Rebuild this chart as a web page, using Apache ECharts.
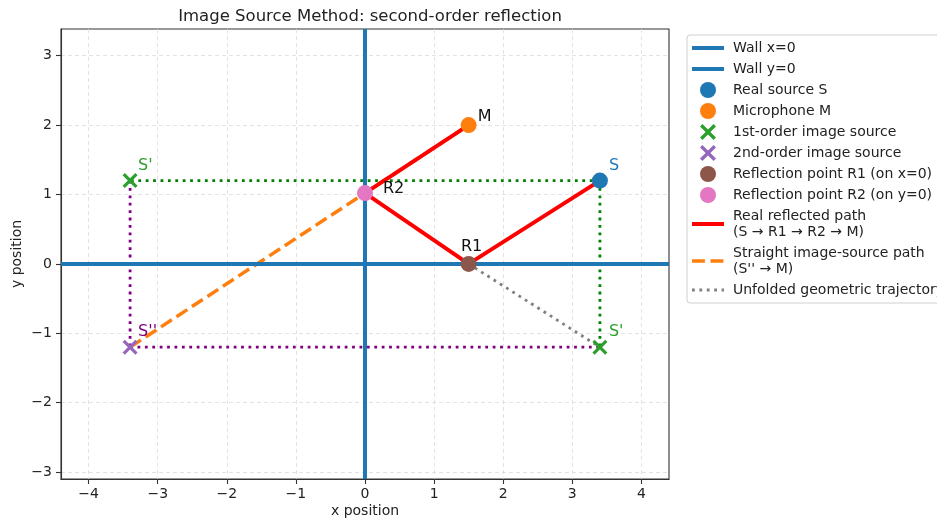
<!DOCTYPE html>
<html>
<head>
<meta charset="utf-8">
<script src="https://cdn.jsdelivr.net/npm/echarts@6/dist/echarts.min.js"></script>
<style>
  html, body { margin: 0; padding: 0; background: #fff; }
  #chart { width: 937px; height: 520px; }
</style>
</head>
<body>
<div id="chart"></div>
<script>
// Geometry of the second-order image-source construction
const xTicks = [-4, -3, -2, -1, 0, 1, 2, 3, 4];
const yTicks = [-3, -2, -1, 0, 1, 2, 3];
const wallX = 0;
const wallY = 0;
const source = [3.4, 1.2];
const microphone = [1.5, 2.0];
const imageFirstLeft = [-3.4, 1.2];
const imageFirstBelow = [3.4, -1.2];
const imageSecond = [-3.4, -1.2];
const reflection1 = [1.5, 0];
const reflection2 = [0, 1.02];

const realPath = [source, reflection1, reflection2, microphone];
const straightPath = [imageSecond, microphone];
const unfoldedPath = [reflection1, imageFirstBelow];
const greenGuides = [[source, imageFirstBelow], [source, imageFirstLeft]];
const purpleGuides = [[imageFirstLeft, imageSecond], [imageSecond, imageFirstBelow]];

const FONT = 'DejaVu Sans';
const X_SYMBOL = 'path://M0,3 L3,0 L10,7 L17,0 L20,3 L13,10 L20,17 L17,20 L10,13 L3,20 L0,17 L7,10 Z';
const minus = v => String(v).replace('-', '\u2212');

function tag(point, text, color, offset, align) {
  return {
    value: point,
    label: {
      show: true, formatter: text, position: 'inside',
      align: align || 'left', verticalAlign: 'middle',
      offset: offset, color: color, fontSize: 16, fontFamily: FONT
    }
  };
}

function guide(name, segs, color) {
  return segs.map(seg => ({
    name: name, type: 'line', data: seg, symbol: 'none', z: 3,
    lineStyle: { color: color, width: 2.8, type: [2.8, 4.6] },
    silent: true, animation: false
  }));
}

function wall(name, axisKey, value) {
  const item = {}; item[axisKey] = value;
  return {
    name: name, type: 'line', data: [], symbol: 'none', z: 2,
    lineStyle: { color: '#1f77b4', width: 4 },
    itemStyle: { color: '#1f77b4' },
    markLine: {
      symbol: 'none', silent: true, animation: false,
      label: { show: false },
      lineStyle: { color: '#1f77b4', width: 4, type: 'solid' },
      data: [item]
    }
  };
}

const pathName = 'Real reflected path\n(S \u2192 R1 \u2192 R2 \u2192 M)';
const straightName = 'Straight image-source path\n(S\'\' \u2192 M)';
const unfoldedName = 'Unfolded geometric trajectory';

const chart = echarts.init(document.getElementById('chart'), null, { renderer: 'canvas' });

const series = [
  wall('Wall x=0', 'xAxis', wallX),
  wall('Wall y=0', 'yAxis', wallY),
  ...guide('guide-green', greenGuides, '#008000'),
  ...guide('guide-purple', purpleGuides, '#800080'),
  {
    name: unfoldedName, type: 'line', data: unfoldedPath, symbol: 'none', z: 3,
    lineStyle: { color: '#808080', width: 2.8, type: [2.8, 4.6] },
    itemStyle: { color: '#808080' }
  },
  {
    name: straightName, type: 'line', data: straightPath, symbol: 'none', z: 4,
    lineStyle: { color: '#ff7f0e', width: 3.5, type: [12.9, 5.6] },
    itemStyle: { color: '#ff7f0e' }
  },
  {
    name: pathName, type: 'line', data: realPath, symbol: 'none', z: 5,
    lineStyle: { color: '#ff0000', width: 4 },
    itemStyle: { color: '#ff0000' }
  },
  {
    name: 'Real source S', type: 'scatter', symbol: 'circle', symbolSize: 16, z: 6,
    itemStyle: { color: '#1f77b4', opacity: 1 },
    data: [tag(source, 'S', '#1f77b4', [9, -15])]
  },
  {
    name: 'Microphone M', type: 'scatter', symbol: 'circle', symbolSize: 16, z: 6,
    itemStyle: { color: '#ff7f0e', opacity: 1 },
    data: [tag(microphone, 'M', '#111', [9, -8])]
  },
  {
    name: '1st-order image source', type: 'scatter', symbol: X_SYMBOL, symbolSize: 15, z: 6,
    itemStyle: { color: '#2ca02c', opacity: 1 },
    data: [tag(imageFirstLeft, "S'", '#2ca02c', [8, -15]), tag(imageFirstBelow, "S'", '#2ca02c', [9, -15])]
  },
  {
    name: '2nd-order image source', type: 'scatter', symbol: X_SYMBOL, symbolSize: 15, z: 6,
    itemStyle: { color: '#9467bd', opacity: 1 },
    data: [tag(imageSecond, "S''", '#800080', [8, -15])]
  },
  {
    name: 'Reflection point R1 (on x=0)', type: 'scatter', symbol: 'circle', symbolSize: 16, z: 6,
    itemStyle: { color: '#8c564b', opacity: 1 },
    data: [tag(reflection1, 'R1', '#111', [3, -17], 'center')]
  },
  {
    name: 'Reflection point R2 (on y=0)', type: 'scatter', symbol: 'circle', symbolSize: 16, z: 6,
    itemStyle: { color: '#e377c2', opacity: 1 },
    data: [tag(reflection2, 'R2', '#111', [18, -4])]
  }
];

// Line entries show only their stroke, no marker
const lineEntry = name => ({ name: name, itemStyle: { opacity: 0 } });
const legendData = [
  lineEntry('Wall x=0'), lineEntry('Wall y=0'),
  'Real source S', 'Microphone M',
  '1st-order image source', '2nd-order image source',
  'Reflection point R1 (on x=0)', 'Reflection point R2 (on y=0)',
  lineEntry(pathName), lineEntry(straightName), lineEntry(unfoldedName)
];

const axisCommon = {
  type: 'value',
  axisLine: { show: true, onZero: false, lineStyle: { color: '#333', width: 1.1 } },
  axisTick: { show: true, length: 5, lineStyle: { color: '#333', width: 1.1 } },
  splitLine: { show: true, lineStyle: { color: '#dcdcdc', width: 0.8, type: [4, 3] } },
  nameLocation: 'middle',
  nameMoveOverlap: false,
  nameTextStyle: { fontFamily: FONT, fontSize: 14, color: '#222' }
};

chart.setOption({
  animation: false,
  backgroundColor: '#fff',
  title: {
    text: 'Image Source Method: second-order reflection',
    left: 365, top: 3, textAlign: 'center',
    textStyle: { fontFamily: FONT, fontSize: 16.5, fontWeight: 'normal', color: '#222' }
  },
  grid: {
    left: 61, right: 268, top: 29, bottom: 41,
    outerBoundsMode: 'none', containLabel: false,
    show: true, borderColor: '#333', borderWidth: 1.1, backgroundColor: 'transparent'
  },
  xAxis: Object.assign({}, axisCommon, {
    min: -4.4, max: 4.4, name: 'x position', nameGap: 25,
    axisTick: Object.assign({}, axisCommon.axisTick, { customValues: xTicks }),
    axisLabel: { customValues: xTicks, formatter: minus, margin: 8, fontFamily: FONT, fontSize: 14, color: '#222' }
  }),
  yAxis: Object.assign({}, axisCommon, {
    min: -3.1, max: 3.385, name: 'y position', nameGap: 37,
    axisTick: Object.assign({}, axisCommon.axisTick, { customValues: yTicks }),
    axisLabel: { customValues: yTicks, formatter: minus, margin: 9, fontFamily: FONT, fontSize: 14, color: '#222' }
  }),
  legend: {
    orient: 'vertical', left: 687, top: 35,
    padding: [5, 30, 5, 3], itemGap: 5, itemWidth: 32, itemHeight: 16,
    borderColor: '#cfcfcf', borderWidth: 1, borderRadius: 3,
    backgroundColor: '#fff',
    selectedMode: false,
    lineStyle: { width: 'inherit' },
    textStyle: { fontFamily: FONT, fontSize: 14, color: '#222', lineHeight: 16, padding: [0, 0, 0, 4] },
    data: legendData
  },
  series: series
});
</script>
</body>
</html>
